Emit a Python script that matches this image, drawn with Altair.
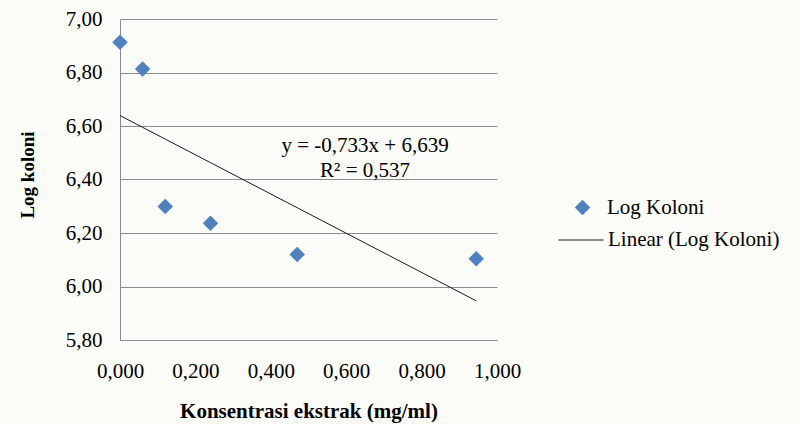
import altair as alt
import pandas as pd

# ---- data ----
konsentrasi = [0.0, 0.06, 0.12, 0.24, 0.47, 0.945]
log_koloni = [6.913, 6.813, 6.299, 6.236, 6.120, 6.104]
slope = -0.733
intercept = 6.639
equation_lines = ["y = -0,733x + 6,639", "R² = 0,537"]
equation_pos = [0.65, 6.525]
x_ticks = [0.0, 0.2, 0.4, 0.6, 0.8, 1.0]
y_ticks = [5.8, 6.0, 6.2, 6.4, 6.6, 6.8, 7.0]
series_points = "Log Koloni"
series_line = "Linear (Log Koloni)"

df = pd.DataFrame({"x": konsentrasi, "y": log_koloni,
                   "s": series_points, "t": series_line})
eq_df = pd.DataFrame({"x": [equation_pos[0]], "y": [equation_pos[1]],
                      "label": [equation_lines]})

FONT = "Liberation Serif"
GRID = "#8c8c8c"
BLUE = "#4F81BD"
W, H = 377, 321
FS = 21

xs = alt.Scale(domain=[0, 1], nice=False, zero=False)
ys = alt.Scale(domain=[5.8, 7.0], nice=False, zero=False)

X_TITLE = "Konsentrasi ekstrak (mg/ml)"
Y_TITLE = "Log koloni"


def x_axis():
    return alt.Axis(values=x_ticks,
                    labelExpr="replace(format(datum.value, '.3f'), '.', ',')",
                    grid=False, ticks=False, tickSize=0, domainColor=GRID,
                    labelFont=FONT, labelFontSize=FS, labelColor="black",
                    labelBaseline="alphabetic", labelPadding=37,
                    labelFlush=False, labelOverlap=False,
                    title=X_TITLE, titleFont=FONT, titleFontSize=21,
                    titleFontWeight="bold", titleColor="black",
                    titleX=W / 2, titleY=77, titleBaseline="alphabetic",
                    titleAlign="center")


def y_axis():
    return alt.Axis(values=y_ticks,
                    labelExpr="replace(format(datum.value, '.2f'), '.', ',')",
                    grid=True, gridColor=GRID, gridWidth=1,
                    ticks=False, tickSize=0, domainColor=GRID,
                    labelFont=FONT, labelFontSize=FS, labelColor="black",
                    labelPadding=18, labelFlush=False, labelOverlap=False,
                    title=Y_TITLE, titleFont=FONT, titleFontSize=19,
                    titleFontWeight="bold", titleColor="black",
                    titleAngle=270, titleX=-87, titleY=155.5,
                    titleBaseline="alphabetic", titleAlign="center")


points = alt.Chart(df).mark_point(
    filled=True, shape="diamond", size=240, color=BLUE, opacity=1
).encode(
    x=alt.X("x:Q", scale=xs, axis=x_axis(), title=X_TITLE),
    y=alt.Y("y:Q", scale=ys, axis=y_axis(), title=Y_TITLE),
    shape=alt.Shape("s:N",
                    scale=alt.Scale(domain=[series_points], range=["diamond"]),
                    legend=alt.Legend(title=None, orient="none",
                                      legendX=452, legendY=178,
                                      symbolSize=240, symbolFillColor=BLUE,
                                      symbolStrokeWidth=0,
                                      labelFont=FONT, labelFontSize=FS,
                                      labelColor="black", labelOffset=14,
                                      padding=0, labelLimit=300)),
)

line = alt.Chart(df).transform_calculate(
    fit=f"{intercept} + ({slope}) * datum.x"
).mark_line(strokeWidth=1).encode(
    x=alt.X("x:Q", scale=xs, axis=x_axis(), title=X_TITLE),
    y=alt.Y("fit:Q", scale=ys, axis=y_axis(), title=Y_TITLE),
    color=alt.Color("t:N",
                    scale=alt.Scale(domain=[series_line], range=["#1a1a1a"]),
                    legend=alt.Legend(title=None, orient="none",
                                      legendX=438, legendY=198,
                                      symbolType="stroke", symbolSize=2025,
                                      symbolStrokeWidth=1,
                                      labelFont=FONT, labelFontSize=FS,
                                      labelColor="black", labelOffset=4,
                                      padding=0, labelLimit=300)),
)

eq = alt.Chart(eq_df).mark_text(
    font=FONT, fontSize=FS, color="black", align="center",
    baseline="middle", lineHeight=25
).encode(
    x=alt.X("x:Q", scale=xs),
    y=alt.Y("y:Q", scale=ys),
    text="label",
)

chart = alt.layer(line, points, eq).properties(
    width=W, height=H,
    autosize=alt.AutoSizeParams(type="none"),
    padding={"left": 120, "top": 19, "right": 303, "bottom": 84},
    background="#fbfbf7",
).configure_view(stroke=None)

chart.save("out.html", embed_options={"renderer": "svg", "actions": False})
